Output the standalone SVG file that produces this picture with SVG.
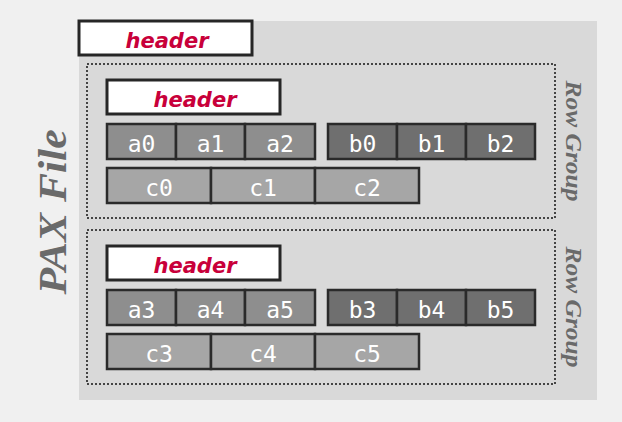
<svg xmlns="http://www.w3.org/2000/svg" width="622" height="422" viewBox="0 0 622 422">
<style>
.hdr{fill:#fff;stroke:#262626;stroke-width:3}
.ht{font-family:"DejaVu Sans",sans-serif;font-weight:bold;font-style:italic;font-size:21px;fill:#c8003a;text-anchor:middle}
.cell{stroke:#2a2a2a;stroke-width:2.5}
.a{fill:#8e8e8e}.b{fill:#6f6f6f}.c{fill:#a6a6a6}
.ct{font-family:"DejaVu Sans Mono",monospace;font-size:23px;fill:#fff;text-anchor:middle}
.rg{fill:none;stroke:#444;stroke-width:2;stroke-dasharray:2 2}
.lbl{font-family:"Liberation Serif",serif;font-weight:bold;font-style:italic;fill:#6a6a6a;text-anchor:middle}
</style>
<rect width="622" height="422" fill="#f0f0f0"/>
<g id="pax-file">
<rect x="79" y="21" width="518" height="379" fill="#d9d9d9"/>
<text class="lbl" font-size="41" transform="translate(66,212) rotate(-90)" textLength="165" lengthAdjust="spacingAndGlyphs">PAX File</text>
</g>
<g id="file-header">
<rect class="hdr" x="79" y="21" width="173" height="34"/>
<text class="ht" x="167" y="48">header</text>
</g>
<g id="rowgroup1">
<rect class="rg" x="87" y="64" width="468" height="154"/>
<text class="lbl" font-size="23" transform="translate(566,141) rotate(90)" textLength="121" lengthAdjust="spacingAndGlyphs">Row Group</text>
<g id="rg1-header">
<rect class="hdr" x="107" y="80" width="173" height="34"/>
<text class="ht" x="195" y="107">header</text>
</g>
<g id="rg1-a">
<rect class="cell a" x="107" y="124" width="69" height="35"/><text class="ct" x="141.5" y="152">a0</text>
<rect class="cell a" x="176" y="124" width="69" height="35"/><text class="ct" x="210.5" y="152">a1</text>
<rect class="cell a" x="245" y="124" width="70" height="35"/><text class="ct" x="280" y="152">a2</text>
</g>
<g id="rg1-b">
<rect class="cell b" x="328" y="124" width="69" height="35"/><text class="ct" x="362.5" y="152">b0</text>
<rect class="cell b" x="397" y="124" width="69" height="35"/><text class="ct" x="431.5" y="152">b1</text>
<rect class="cell b" x="466" y="124" width="69" height="35"/><text class="ct" x="500.5" y="152">b2</text>
</g>
<g id="rg1-c">
<rect class="cell c" x="107" y="168" width="104" height="35"/><text class="ct" x="159" y="196">c0</text>
<rect class="cell c" x="211" y="168" width="104" height="35"/><text class="ct" x="263" y="196">c1</text>
<rect class="cell c" x="315" y="168" width="104" height="35"/><text class="ct" x="367" y="196">c2</text>
</g>
</g>
<g id="rowgroup2">
<rect class="rg" x="87" y="230" width="468" height="154"/>
<text class="lbl" font-size="23" transform="translate(566,307) rotate(90)" textLength="121" lengthAdjust="spacingAndGlyphs">Row Group</text>
<g id="rg2-header">
<rect class="hdr" x="107" y="246" width="173" height="34"/>
<text class="ht" x="195" y="273">header</text>
</g>
<g id="rg2-a">
<rect class="cell a" x="107" y="290" width="69" height="35"/><text class="ct" x="141.5" y="318">a3</text>
<rect class="cell a" x="176" y="290" width="69" height="35"/><text class="ct" x="210.5" y="318">a4</text>
<rect class="cell a" x="245" y="290" width="70" height="35"/><text class="ct" x="280" y="318">a5</text>
</g>
<g id="rg2-b">
<rect class="cell b" x="328" y="290" width="69" height="35"/><text class="ct" x="362.5" y="318">b3</text>
<rect class="cell b" x="397" y="290" width="69" height="35"/><text class="ct" x="431.5" y="318">b4</text>
<rect class="cell b" x="466" y="290" width="69" height="35"/><text class="ct" x="500.5" y="318">b5</text>
</g>
<g id="rg2-c">
<rect class="cell c" x="107" y="334" width="104" height="35"/><text class="ct" x="159" y="362">c3</text>
<rect class="cell c" x="211" y="334" width="104" height="35"/><text class="ct" x="263" y="362">c4</text>
<rect class="cell c" x="315" y="334" width="104" height="35"/><text class="ct" x="367" y="362">c5</text>
</g>
</g>
<g id="connectors"/>
</svg>
